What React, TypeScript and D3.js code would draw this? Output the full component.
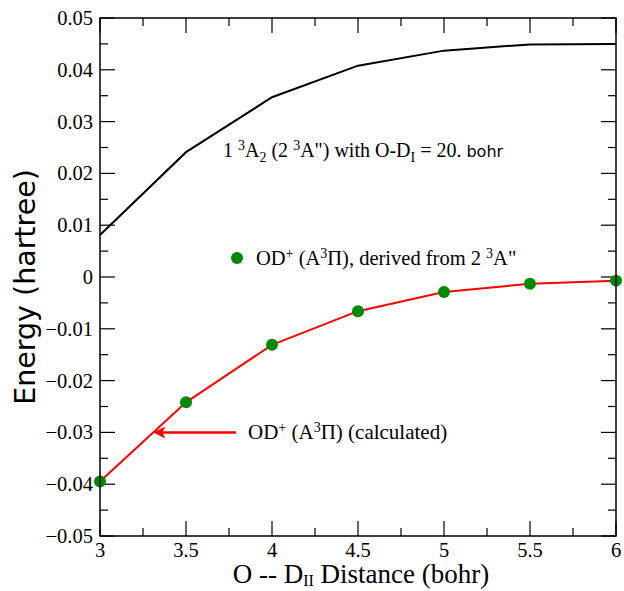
import React from "react";
import * as d3 from "d3";

// distance O -- D_II (bohr)
const distance = [3, 3.5, 4, 4.5, 5, 5.5, 6];
// 1 3A2 (2 3A") with O-D_I = 20 bohr
const tripletA2 = [0.0081, 0.0241, 0.0347, 0.0408, 0.0437, 0.0449, 0.045];
// OD+ (A3Pi) calculated curve
const odCalculated = [-0.0395, -0.0242, -0.0131, -0.0066, -0.0029, -0.0013, -0.0007];
// OD+ (A3Pi) derived from 2 3A"
const odDerived = [-0.0395, -0.0242, -0.0131, -0.0066, -0.0029, -0.0013, -0.0007];

const xMajor = [3, 3.5, 4, 4.5, 5, 5.5, 6];
const xMinor = [3.25, 3.75, 4.25, 4.75, 5.25, 5.75];
const yMajor = [-0.05, -0.04, -0.03, -0.02, -0.01, 0, 0.01, 0.02, 0.03, 0.04, 0.05];
const yMinor = [-0.045, -0.035, -0.025, -0.015, -0.005, 0.005, 0.015, 0.025, 0.035, 0.045];

const serif = { fontFamily: '"Liberation Serif", Tinos, "Nimbus Roman", "DejaVu Serif", serif' };
const sans = { fontFamily: '"DejaVu Sans", Verdana, sans-serif' };

export default function App() {
  const width = 624;
  const height = 591;
  const margin = { top: 18, right: 8, bottom: 55, left: 100 };
  const x0 = margin.left, x1 = width - margin.right;
  const y0 = margin.top, y1 = height - margin.bottom;

  const x = d3.scaleLinear().domain([3, 6]).range([x0, x1]);
  const y = d3.scaleLinear().domain([-0.05, 0.05]).range([y1, y0]);

  const line = d3.line<number>()
    .x((_, i) => x(distance[i]))
    .y(d => y(d));

  const fmtY = (v: number) => (v === 0 ? "0" : d3.format(".2f")(v));
  const major = 15, minor = 8;

  // arrow pointing at red curve at E = -0.03
  const arrowY = y(-0.03);
  const ia = 0;
  const t = (-0.03 - odCalculated[ia]) / (odCalculated[ia + 1] - odCalculated[ia]);
  const arrowTipX = x(distance[ia] + t * (distance[ia + 1] - distance[ia]));

  return (
    <svg width={width} height={height} style={{ position: "absolute", left: 0, top: 0 }}>
      <rect width={width} height={height} fill="white" />

      {/* ticks, all four sides */}
      <g stroke="#000" strokeWidth={1.2}>
        {xMajor.map(v => (
          <g key={"xm" + v}>
            <line x1={x(v)} x2={x(v)} y1={y1} y2={y1 - major} />
            <line x1={x(v)} x2={x(v)} y1={y0} y2={y0 + major} />
          </g>
        ))}
        {xMinor.map(v => (
          <g key={"xn" + v}>
            <line x1={x(v)} x2={x(v)} y1={y1} y2={y1 - minor} />
            <line x1={x(v)} x2={x(v)} y1={y0} y2={y0 + minor} />
          </g>
        ))}
        {yMajor.map(v => (
          <g key={"ym" + v}>
            <line x1={x0} x2={x0 + major} y1={y(v)} y2={y(v)} />
            <line x1={x1} x2={x1 - major} y1={y(v)} y2={y(v)} />
          </g>
        ))}
        {yMinor.map(v => (
          <g key={"yn" + v}>
            <line x1={x0} x2={x0 + minor} y1={y(v)} y2={y(v)} />
            <line x1={x1} x2={x1 - minor} y1={y(v)} y2={y(v)} />
          </g>
        ))}
      </g>

      {/* tick labels */}
      <g style={serif} fontSize={20.5} fill="#000">
        {xMajor.map(v => (
          <text key={"xl" + v} x={x(v)} y={y1 + 21} textAnchor="middle">{String(v)}</text>
        ))}
        {yMajor.map(v => (
          <text key={"yl" + v} x={x0 - 7} y={y(v) + 7} textAnchor="end">{fmtY(v)}</text>
        ))}
      </g>

      {/* curves */}
      <path d={line(tripletA2) ?? ""} fill="none" stroke="#000" strokeWidth={2} />
      <path d={line(odCalculated) ?? ""} fill="none" stroke="#ff0000" strokeWidth={2} />
      {odDerived.map((v, i) => (
        <circle key={"p" + i} cx={x(distance[i])} cy={y(v)} r={6} fill="#008a00" />
      ))}

      {/* frame */}
      <rect x={x0} y={y0} width={x1 - x0} height={y1 - y0} fill="none" stroke="#000" strokeWidth={1.5} />

      {/* annotation for black curve */}
      <text x={223} y={157} style={serif} fontSize={20} fill="#000">
        1 <tspan dy={-7} fontSize={14}>3</tspan><tspan dy={7}>A</tspan>
        <tspan dy={5} fontSize={14}>2</tspan><tspan dy={-5}> (2 </tspan>
        <tspan dy={-7} fontSize={14}>3</tspan><tspan dy={7}>A") with O-D</tspan>
        <tspan dy={5} fontSize={14}>I</tspan><tspan dy={-5}> = 20. </tspan>
        <tspan style={sans} fontSize={16}>bohr</tspan>
      </text>

      {/* legend for green dots */}
      <circle cx={237} cy={258} r={6} fill="#008a00" />
      <text x={256} y={265} style={serif} fontSize={20.5} fill="#000">
        OD<tspan dy={-7} fontSize={14}>+</tspan><tspan dy={7}> (A</tspan>
        <tspan dy={-7} fontSize={14}>3</tspan><tspan dy={7}>Π), derived from 2 </tspan>
        <tspan dy={-7} fontSize={14}>3</tspan><tspan dy={7}>A"</tspan>
      </text>

      {/* arrow to red curve */}
      <line x1={236} x2={arrowTipX + 8} y1={arrowY} y2={arrowY} stroke="#ff0000" strokeWidth={2.5} />
      <path
        d={`M${arrowTipX},${arrowY} L${arrowTipX + 12},${arrowY - 6} L${arrowTipX + 9},${arrowY} L${arrowTipX + 12},${arrowY + 6} Z`}
        fill="#ff0000"
      />
      <text x={248} y={arrowY + 7} style={serif} fontSize={21} fill="#000">
        OD<tspan dy={-7} fontSize={14}>+</tspan><tspan dy={7}> (A</tspan>
        <tspan dy={-7} fontSize={14}>3</tspan><tspan dy={7}>Π) (calculated)</tspan>
      </text>

      {/* axis titles */}
      <text x={361} y={583} textAnchor="middle" style={serif} fontSize={27} fill="#000">
        O -- D<tspan dy={3} fontSize={16}>II</tspan><tspan dy={-3}> Distance (bohr)</tspan>
      </text>
      <text
        transform={`translate(35,287) rotate(-90)`}
        textAnchor="middle"
        style={sans}
        fontSize={28.5}
        fill="#000"
      >
        Energy (hartree)
      </text>
    </svg>
  );
}
